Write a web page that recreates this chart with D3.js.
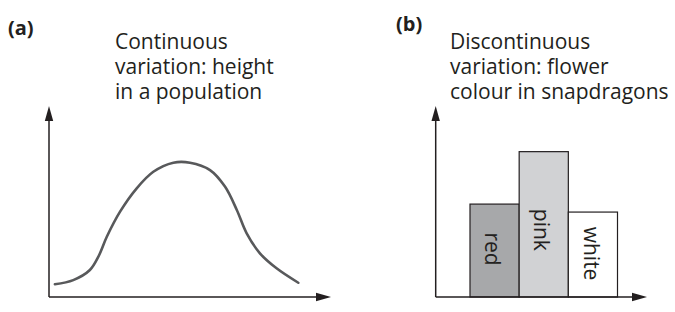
<!DOCTYPE html>
<html><head><meta charset="utf-8">
<script src="https://cdn.jsdelivr.net/npm/d3@7"></script>
<style>
html,body{margin:0;padding:0;background:#fff;}
text{font-family:"Open Sans",sans-serif;fill:#231f20;}
</style></head>
<body><svg id="c" width="675" height="312"></svg>
<script>
// Panel (a): continuous variation — relative height vs frequency
const heightX = [2.1, 8.6, 14.5, 17.5, 20.5, 25.2, 31.1, 37.0, 44.1, 50.0, 57.1, 62.4, 66.6, 70.1, 74.8, 80.7, 88.4];
const frequencyY = [6.7, 8.9, 14.2, 21.2, 31.7, 44.9, 57.2, 65.9, 70.7, 70.7, 66.8, 58.1, 45.8, 33.5, 23.0, 15.1, 7.5];
// Panel (b): discontinuous variation — flower colour categories
const colourCategories = ["red", "pink", "white"];
const colourCounts = [48.9, 76.5, 44.7];
const barFills = ["#a7a8aa", "#d1d2d4", "#ffffff"];
const titleA = ["Continuous", "variation: height", "in a population"];
const titleB = ["Discontinuous", "variation: flower", "colour in snapdragons"];

const svg = d3.select("#c");
const ink = "#231f20";

function axes(g, x0, y0, xTip, yTip) {
  g.append("line").attr("x1", x0).attr("y1", y0).attr("x2", x0).attr("y2", yTip + 12)
    .attr("stroke", ink).attr("stroke-width", 1.5);
  g.append("line").attr("x1", x0).attr("y1", y0).attr("x2", xTip - 12).attr("y2", y0)
    .attr("stroke", ink).attr("stroke-width", 1.5);
  g.append("path").attr("d", `M${x0},${yTip} L${x0-4.2},${yTip+15} L${x0+4.2},${yTip+15} Z`).attr("fill", ink);
  g.append("path").attr("d", `M${xTip},${y0} L${xTip-15},${y0-4.2} L${xTip-15},${y0+4.2} Z`).attr("fill", ink);
}

function title(lines, x) {
  lines.forEach((l, i) => svg.append("text").attr("x", x).attr("y", 49 + i * 25)
    .style("font-size", "21px").text(l));
}

// ---- Panel (a)
const xa = d3.scaleLinear().domain([0, 100]).range([49, 331]);
const ya = d3.scaleLinear().domain([0, 100]).range([297, 107]);
const ga = svg.append("g");
axes(ga, xa(0), ya(0), 331, 106);
const pts = heightX.map((x, i) => [x, frequencyY[i]]);
ga.append("path").datum(pts)
  .attr("d", d3.line().x(d => xa(d[0])).y(d => ya(d[1])).curve(d3.curveCatmullRom.alpha(0.5)))
  .attr("fill", "none").attr("stroke", "#58595b").attr("stroke-width", 2.6).attr("stroke-linecap", "round");
svg.append("text").attr("x", 8).attr("y", 35).style("font-size", "20px").style("font-weight", "bold").text("(a)");
title(titleA, 115);

// ---- Panel (b)
const xb = d3.scaleBand().domain(colourCategories).range([470, 617.5]).padding(0);
const yb = d3.scaleLinear().domain([0, 100]).range([297, 107]);
const gb = svg.append("g");
gb.selectAll("rect").data(colourCategories).join("rect")
  .attr("x", d => xb(d)).attr("width", xb.bandwidth())
  .attr("y", (d, i) => yb(colourCounts[i])).attr("height", (d, i) => yb(0) - yb(colourCounts[i]))
  .attr("fill", (d, i) => barFills[i]).attr("stroke", ink).attr("stroke-width", 1.2);
gb.selectAll("text.lab").data(colourCategories).join("text").attr("class", "lab")
  .attr("transform", (d, i) => {
    const cx = xb(d) + xb.bandwidth() / 2 - 2;
    const cy = (yb(colourCounts[i]) + yb(0)) / 2 + [-1.5, 5.5, -1][i];
    return `translate(${cx},${cy}) rotate(90)`;
  })
  .attr("text-anchor", "middle").attr("dy", "0.35em").style("font-size", "21px").text(d => d);
axes(gb, 435.7, 297, 647, 106);
svg.append("text").attr("x", 396).attr("y", 31).style("font-size", "20px").style("font-weight", "bold").text("(b)");
title(titleB, 450);
</script></body></html>
